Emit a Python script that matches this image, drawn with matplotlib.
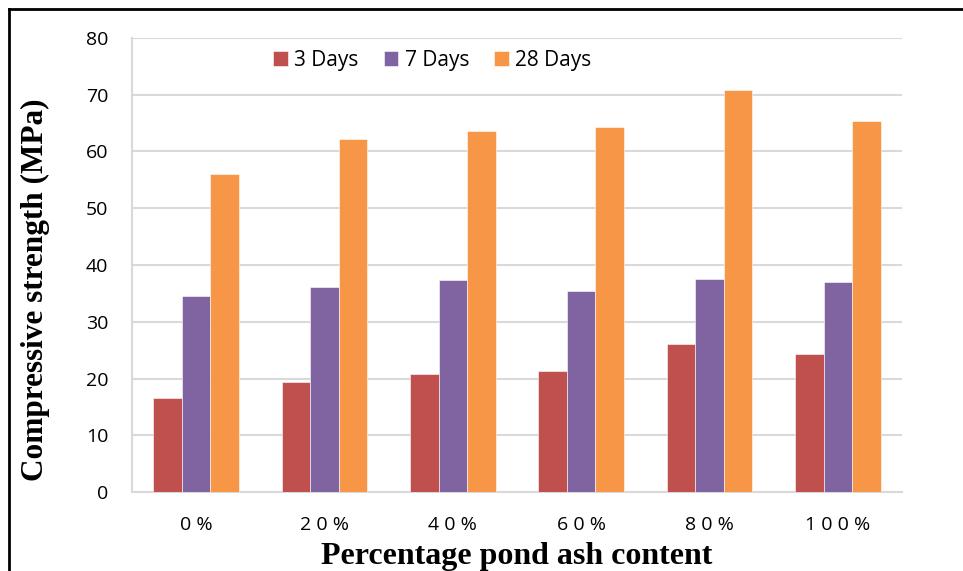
import matplotlib.pyplot as plt
import numpy as np

# compressive strength (MPa) per pond ash replacement level
categories = ['0%', '20%', '40%', '60%', '80%', '100%']
days_3 = [16.6, 19.4, 20.8, 21.4, 26.0, 24.4]
days_7 = [34.6, 36.2, 37.3, 35.5, 37.5, 37.0]
days_28 = [56.0, 62.2, 63.6, 64.4, 70.8, 65.4]
series_names = ['3 Days', '7 Days', '28 Days']
colors = ['#c0504d', '#8064a2', '#f79646']

fig = plt.figure(figsize=(9.63, 5.71), dpi=100)
ax = fig.add_axes([132 / 963, 1 - 492 / 571, 770 / 963, 454 / 571])

x = np.arange(len(categories))
w = 0.222
for i, (vals, name, c) in enumerate(zip([days_3, days_7, days_28], series_names, colors)):
    ax.bar(x + (i - 1) * w, vals, w, color=c, label=name, edgecolor='white', linewidth=0.4, zorder=3)

ax.set_xlim(-0.5, len(categories) - 0.5)
ax.set_ylim(0, 80)
ax.set_yticks(range(0, 81, 10))
ax.yaxis.grid(True, color='#d9d9d9', linewidth=1.5, zorder=0)
ax.tick_params(length=0)
ax.tick_params(axis='y', pad=17)
ax.tick_params(axis='x', pad=17)
ax.set_xticks(x)
# spaced-out category labels
ax.set_xticklabels([' '.join(c) for c in categories])
for lab in ax.get_yticklabels() + ax.get_xticklabels():
    lab.set_fontfamily('Open Sans')
    lab.set_fontsize(14)

for s in ['top', 'right']:
    ax.spines[s].set_visible(False)
for s in ['left', 'bottom']:
    ax.spines[s].set_color('#d9d9d9')
    ax.spines[s].set_linewidth(1.5)

ax.set_ylabel('Compressive strength (MPa)', fontfamily='Liberation Serif',
              fontweight='bold', fontsize=22.5)
ax.yaxis.set_label_coords(-0.107, 0.445)
ax.set_xlabel('Percentage pond ash content', fontfamily='Liberation Serif',
              fontweight='bold', fontsize=23, labelpad=6)

leg = ax.legend(loc='upper center', bbox_to_anchor=(0.39, 1.015), ncol=3, frameon=False,
                prop={'family': 'Open Sans', 'size': 15}, handlelength=0.7,
                handleheight=0.7, handletextpad=0.3, columnspacing=1.2)

# outer frame on top and left
fig.add_artist(plt.Line2D([9 / 963, 1], [1 - 9 / 571, 1 - 9 / 571], color='black', linewidth=2, transform=fig.transFigure))
fig.add_artist(plt.Line2D([9 / 963, 9 / 963], [0, 1 - 9 / 571], color='black', linewidth=2, transform=fig.transFigure))

fig.savefig('out.png', dpi=100)
